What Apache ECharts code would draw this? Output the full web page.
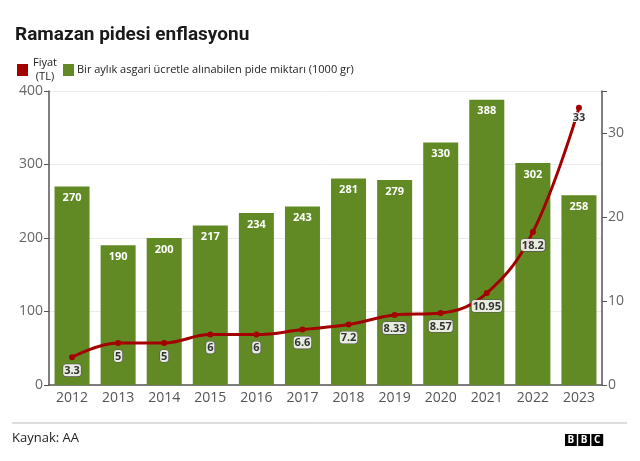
<!DOCTYPE html>
<html>
<head>
<meta charset="utf-8">
<script src="https://cdn.jsdelivr.net/npm/echarts@6/dist/echarts.min.js"></script>
<style>
  html, body { margin: 0; padding: 0; background: #fff; }
  #chart { width: 640px; height: 461px; }
</style>
</head>
<body>
<div id="chart"></div>
<script>
// Ramazan pidesi: fiyat (TL) ve asgari ücretle alınabilen pide miktarı
const years = ['2012', '2013', '2014', '2015', '2016', '2017', '2018', '2019', '2020', '2021', '2022', '2023']
const pideMiktari = [270, 190, 200, 217, 234, 243, 281, 279, 330, 388, 302, 258]
const fiyat = [3.3, 5, 5, 6, 6, 6.6, 7.2, 8.33, 8.57, 10.95, 18.2, 33]

const GREEN = '#628a24'
const RED = '#a30000'
const FONT = '"Open Sans", "Noto Sans", sans-serif'
const NAME_FIYAT = 'Fiyat (TL)'
const NAME_PIDE = 'Bir aylık asgari ücretle alınabilen pide miktarı (1000 gr)'

const chart = echarts.init(document.getElementById('chart'))

// BBC logo: three black boxes with white letters
const bbc = ['B', 'B', 'C'].map((ch, i) => ({
  type: 'group',
  left: 565 + i * 13.2,
  top: 434,
  children: [
    { type: 'rect', shape: { x: 0, y: 0, width: 11.8, height: 12 }, style: { fill: '#000' } },
    {
      type: 'text',
      style: {
        x: 5.9, y: 6.3, text: ch, fill: '#fff', align: 'center', verticalAlign: 'middle',
        font: 'bold 10px ' + FONT
      }
    }
  ]
}))

// line labels: boxed, except the last one (plain text)
const fiyatData = fiyat.map((v, i) => i === fiyat.length - 1
  ? { value: v, label: { backgroundColor: 'transparent', borderWidth: 0, distance: 1, textBorderColor: '#fff', textBorderWidth: 2 } }
  : v)

chart.setOption({
  animation: false,
  textStyle: { fontFamily: FONT },
  title: {
    text: 'Ramazan pidesi enflasyonu',
    left: 10,
    top: 21,
    textStyle: { fontSize: 19, fontWeight: 'bold', color: '#1a1a1a', fontFamily: 'Roboto, sans-serif' }
  },
  legend: {
    left: 12,
    top: 51,
    icon: 'rect',
    itemWidth: 11,
    itemHeight: 12,
    itemGap: 4,
    selectedMode: false,
    formatter: name => name === NAME_FIYAT ? '{c|Fiyat}\n{c|(TL)}' : name,
    textStyle: {
      fontSize: 11, color: '#222', lineHeight: 14, padding: [0, 0, 0, -2],
      rich: { c: { align: 'center', width: 28, fontSize: 11, color: '#222', lineHeight: 14 } }
    },
    data: [
      { name: NAME_FIYAT, itemStyle: { color: RED } },
      { name: NAME_PIDE, itemStyle: { color: GREEN } }
    ]
  },
  grid: { left: 49, right: 38, top: 91, bottom: 76 },
  xAxis: {
    type: 'category',
    data: years,
    axisLine: { lineStyle: { color: '#555', width: 1.5 } },
    axisTick: { alignWithLabel: true, length: 5, lineStyle: { color: '#555' } },
    axisLabel: { color: '#555', fontSize: 14, margin: 6 }
  },
  yAxis: [
    {
      type: 'value',
      min: 0,
      max: 400,
      interval: 100,
      axisLine: { show: true, lineStyle: { color: '#555', width: 1.5 } },
      axisTick: { show: true, length: 5, lineStyle: { color: '#555' } },
      axisLabel: { color: '#666', fontSize: 14, margin: 6 },
      splitLine: { lineStyle: { color: '#ececec' } }
    },
    {
      type: 'value',
      min: 0,
      max: 35,
      interval: 10,
      axisLine: { show: true, lineStyle: { color: '#555', width: 1.5 } },
      axisTick: { show: true, length: 5, lineStyle: { color: '#555' } },
      axisLabel: {
        color: '#666', fontSize: 14, margin: 6,
        formatter: v => (v % 10 === 0 ? String(v) : '')
      },
      splitLine: { show: false }
    }
  ],
  series: [
    {
      name: NAME_PIDE,
      type: 'bar',
      data: pideMiktari,
      barWidth: '76%',
      itemStyle: { color: GREEN },
      label: {
        show: true,
        position: 'insideTop',
        distance: 6,
        color: '#fff',
        fontSize: 11,
        fontWeight: 'bold'
      }
    },
    {
      name: NAME_FIYAT,
      type: 'line',
      yAxisIndex: 1,
      data: fiyatData,
      smooth: 0.4,
      symbol: 'circle',
      symbolSize: 6,
      lineStyle: { color: RED, width: 3 },
      itemStyle: { color: RED },
      z: 5,
      label: {
        show: true,
        position: 'bottom',
        distance: 4,
        color: '#333',
        fontSize: 11,
        fontWeight: 'bold',
        backgroundColor: 'rgba(255,255,255,0.85)',
        borderColor: '#555',
        borderWidth: 0.6,
        borderRadius: 3,
        padding: [1, 1, 0, 1]
      }
    }
  ],
  graphic: [
    {
      type: 'line',
      shape: { x1: 12, y1: 423, x2: 627, y2: 423 },
      style: { stroke: '#bbb', lineWidth: 1 }
    },
    {
      type: 'text',
      left: 12,
      top: 432,
      style: { text: 'Kaynak: AA', fill: '#222', font: '13px ' + FONT }
    },
    ...bbc
  ]
})
</script>
</body>
</html>
